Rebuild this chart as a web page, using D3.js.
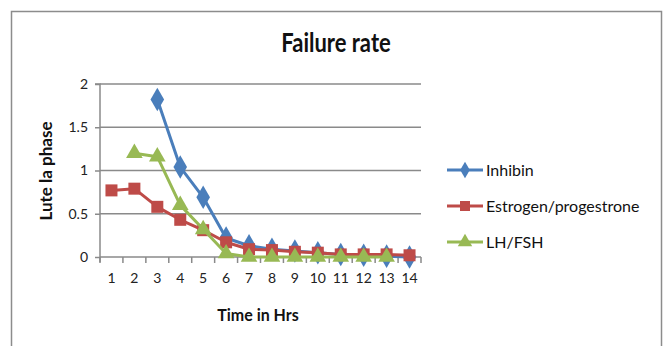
<!DOCTYPE html>
<html>
<head>
<meta charset="utf-8">
<script src="https://cdn.jsdelivr.net/npm/d3@7"></script>
<style>
  html, body { margin: 0; padding: 0; background: #fff; }
  svg { display: block; font-family: Lato, "Open Sans", sans-serif; }
</style>
</head>
<body>
<svg id="chart" width="668" height="346"></svg>
<script>
// Hours on the x axis (categories)
const hours = [1, 2, 3, 4, 5, 6, 7, 8, 9, 10, 11, 12, 13, 14];
const yTicks = [0, 0.5, 1, 1.5, 2];

// Failure rate per hour for each hormone treatment (null = no reading)
const inhibin  = [null, null, 1.82, 1.04, 0.69, 0.22, 0.13, 0.09, 0.07, 0.05, 0.03, 0.02, 0.01, 0.0];
const estrogen = [0.77, 0.79, 0.58, 0.43, 0.31, 0.17, 0.09, 0.08, 0.06, 0.05, 0.03, 0.03, 0.03, 0.02];
const lhfsh    = [null, 1.20, 1.16, 0.60, 0.32, 0.04, 0.0, 0.0, 0.0, 0.0, 0.0, 0.0, 0.0, null];

const seriesNames = ["Inhibin", "Estrogen/progestrone", "LH/FSH"];
const seriesColors = ["#4A7EBB", "#BE4B48", "#98B954"];
const seriesShapes = [d3.symbolDiamond, d3.symbolSquare, d3.symbolTriangle];
const seriesData = [inhibin, estrogen, lhfsh];

const svg = d3.select("#chart");
const font = "Lato, Open Sans, sans-serif";

// Chart frame
svg.append("rect")
  .attr("x", 11.5).attr("y", 11.5)
  .attr("width", 650).attr("height", 350)
  .attr("fill", "#fff").attr("stroke", "#8c8c8c").attr("stroke-width", 1.5);

const plot = { left: 100, right: 421, top: 84, bottom: 257 };

const x = d3.scaleBand().domain(hours).range([plot.left, plot.right]).padding(0);
const y = d3.scaleLinear().domain([0, 2]).range([plot.bottom, plot.top]);

// Horizontal gridlines
svg.append("g")
  .selectAll("line")
  .data(yTicks.filter(t => t > 0))
  .join("line")
  .attr("x1", plot.left).attr("x2", plot.right)
  .attr("y1", d => y(d)).attr("y2", d => y(d))
  .attr("stroke", "#8a8a8a").attr("stroke-width", 1.5);

// Y axis
const yAxis = svg.append("g")
  .attr("transform", `translate(${plot.left},0)`)
  .call(d3.axisLeft(y).tickValues(yTicks).tickSize(5).tickPadding(7).tickFormat(d3.format("")));
yAxis.select(".domain").attr("stroke", "#8a8a8a").attr("stroke-width", 1.5)
  .attr("d", `M-5,${plot.top}H0V${plot.bottom + 5}`);
yAxis.selectAll(".tick line").attr("stroke", "#8a8a8a").attr("stroke-width", 1.5);
yAxis.selectAll(".tick text").attr("font-size", 14).attr("fill", "#222")
  .attr("font-family", font);

// X axis with ticks between categories
const xAxis = svg.append("g")
  .attr("transform", `translate(0,${plot.bottom})`)
  .call(d3.axisBottom(x).tickSize(0).tickPadding(16));
xAxis.select(".domain").attr("stroke", "#8a8a8a").attr("stroke-width", 1.5)
  .attr("d", `M${plot.left},0H${plot.right}`);
xAxis.selectAll(".tick text").attr("font-size", 14).attr("fill", "#222")
  .attr("font-family", font);
xAxis.selectAll(".boundary")
  .data(d3.range(hours.length + 1))
  .join("line")
  .attr("class", "boundary")
  .attr("x1", i => plot.left + i * x.bandwidth())
  .attr("x2", i => plot.left + i * x.bandwidth())
  .attr("y1", 0).attr("y2", 6)
  .attr("stroke", "#8a8a8a").attr("stroke-width", 1.5);

// Series lines and markers
const line = d3.line()
  .defined(d => d.v !== null)
  .x(d => x(d.h) + x.bandwidth() / 2)
  .y(d => y(d.v));

const markerSizes = [160, 144, 120];
seriesData.forEach((vals, i) => {
  const pts = hours.map((h, j) => ({ h, v: vals[j] }));
  const g = svg.append("g");
  g.append("path")
    .datum(pts)
    .attr("d", line)
    .attr("fill", "none")
    .attr("stroke", seriesColors[i])
    .attr("stroke-width", 3)
    .attr("stroke-linejoin", "round");
  g.selectAll("path.marker")
    .data(pts.filter(p => p.v !== null))
    .join("path")
    .attr("class", "marker")
    .attr("d", d3.symbol().type(seriesShapes[i]).size(markerSizes[i]))
    .attr("transform", p => `translate(${x(p.h) + x.bandwidth() / 2},${y(p.v)})`)
    .attr("fill", seriesColors[i]);
});

// Title (slightly tall lettering)
svg.append("text")
  .attr("transform", "translate(336,52) scale(1,1.18)")
  .attr("text-anchor", "middle")
  .attr("font-size", 22).attr("font-weight", "bold").attr("fill", "#111")
  .text("Failure rate");

// Axis titles
svg.append("text")
  .attr("transform", "translate(258,321) scale(1,1.1)")
  .attr("text-anchor", "middle")
  .attr("font-size", 16).attr("font-weight", "bold").attr("fill", "#111")
  .text("Time in Hrs");

svg.append("text")
  .attr("transform", "translate(52,171) rotate(-90)")
  .attr("text-anchor", "middle")
  .attr("font-size", 17).attr("font-weight", "bold").attr("fill", "#111")
  .text("Lute la phase");

// Legend
const legend = svg.append("g");
const legendY = [170, 206, 242];
seriesNames.forEach((name, i) => {
  const row = legend.append("g").attr("transform", `translate(447,${legendY[i]})`);
  row.append("line")
    .attr("x1", 0).attr("x2", 36).attr("y1", 0).attr("y2", 0)
    .attr("stroke", seriesColors[i]).attr("stroke-width", 3);
  row.append("path")
    .attr("d", d3.symbol().type(seriesShapes[i]).size([80, 100, 90][i]))
    .attr("transform", "translate(18,0)")
    .attr("fill", seriesColors[i]);
  row.append("text")
    .attr("x", 39).attr("y", 5.5)
    .attr("font-size", 16).attr("fill", "#111")
    .text(name);
});
</script>
</body>
</html>
